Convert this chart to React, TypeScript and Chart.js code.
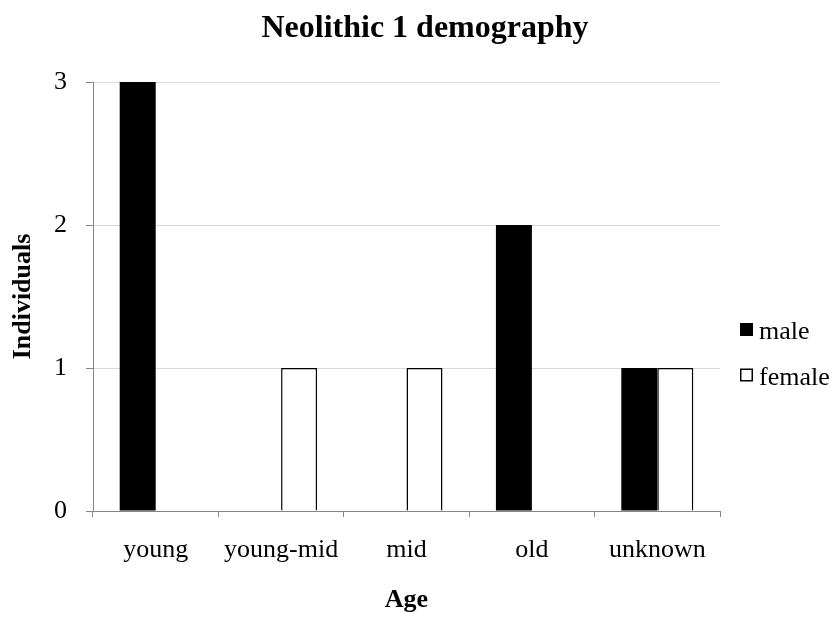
import { useEffect, useRef } from "react";
import { Chart, registerables } from "chart.js";

Chart.register(...registerables);

const categories = ["young", "young-mid", "mid", "old", "unknown"];
const maleValues = [3, 0, 0, 2, 1];
const femaleValues = [0, 1, 1, 0, 1];
const yTicks = [0, 1, 2, 3];
const seriesLabels = ["male", "female"];
const chartTitle = "Neolithic 1 demography";
const xTitle = "Age";
const yTitle = "Individuals";

const FONT = '"Liberation Serif", "Times New Roman", serif';
const AXIS = "#868686";
const GRID = "#d9d9d9";

const headerLegendPlugin = {
  id: "headerLegend",
  afterDraw(chart: any) {
    const { ctx } = chart;
    ctx.save();
    ctx.fillStyle = "#000";
    ctx.font = `bold 32px ${FONT}`;
    ctx.textAlign = "center";
    ctx.textBaseline = "alphabetic";
    ctx.fillText(chartTitle, 425, 37);

    ctx.font = `26px ${FONT}`;
    ctx.textAlign = "left";
    chart.data.datasets.forEach((ds: any, i: number) => {
      const top = 323 + i * 45.5;
      const size = 13;
      ctx.fillStyle = ds.backgroundColor;
      ctx.fillRect(740, top, size, size);
      if (ds.borderWidth) {
        ctx.strokeStyle = ds.borderColor;
        ctx.lineWidth = 1.5;
        ctx.strokeRect(740.75, top + 0.75, size - 1.5, size - 1.5);
      }
      ctx.fillStyle = "#000";
      ctx.fillText(ds.label, 759, top + 16);
    });
    ctx.restore();
  },
};

export default function App() {
  const ref = useRef<HTMLCanvasElement | null>(null);

  useEffect(() => {
    if (!ref.current) return;
    const chart = new Chart(ref.current, {
      type: "bar",
      data: {
        labels: categories,
        datasets: [
          {
            label: seriesLabels[0],
            data: maleValues,
            backgroundColor: "#000000",
            borderWidth: 0,
            categoryPercentage: 0.574,
            barPercentage: 1,
          },
          {
            label: seriesLabels[1],
            data: femaleValues,
            backgroundColor: "#ffffff",
            borderColor: "#000000",
            borderWidth: 1.5,
            categoryPercentage: 0.574,
            barPercentage: 1,
          },
        ],
      },
      options: {
        responsive: false,
        animation: false,
        layout: { padding: { top: 82, right: 112, bottom: 0, left: 0 } },
        plugins: {
          legend: { display: false },
          title: { display: false },
          tooltip: { enabled: false },
        },
        scales: {
          x: {
            offset: true,
            ticks: {
              padding: 18,
              color: "#000",
              font: { family: FONT, size: 26 },
              maxRotation: 0,
              autoSkip: false,
            },
            grid: {
              offset: true,
              drawOnChartArea: false,
              drawTicks: true,
              tickLength: 6,
              tickColor: AXIS,
              color: AXIS,
            },
            border: { color: AXIS, width: 1 },
            title: {
              display: true,
              text: xTitle,
              color: "#000",
              font: { family: FONT, size: 26, weight: "bold" },
              padding: { top: 0, bottom: 2.4 },
            },
            afterFit(s: any) {
              s.height = 107;
            },
          },
          y: {
            min: 0,
            max: 3,
            ticks: {
              stepSize: 1,
              padding: 19,
              color: "#000",
              font: { family: FONT, size: 26 },
            },
            afterBuildTicks(s: any) {
              s.ticks = yTicks.map((v) => ({ value: v }));
            },
            grid: {
              color: (c: any) => (c.tick && c.tick.value === 0 ? AXIS : GRID),
              tickColor: AXIS,
              tickLength: 7,
              lineWidth: 1,
            },
            border: { color: AXIS, width: 1 },
            title: {
              display: true,
              text: yTitle,
              color: "#000",
              font: { family: FONT, size: 26, weight: "bold" },
              padding: { top: 7.4, bottom: 0 },
            },
            afterFit(s: any) {
              s.width = 93;
            },
          },
        },
      } as any,
      plugins: [headerLegendPlugin],
    });
    return () => chart.destroy();
  }, []);

  return (
    <div style={{ position: "fixed", left: 0, top: 0, width: 832, height: 618, background: "#fff" }}>
      <canvas ref={ref} width={832} height={618} style={{ width: 832, height: 618, display: "block" }} />
    </div>
  );
}
